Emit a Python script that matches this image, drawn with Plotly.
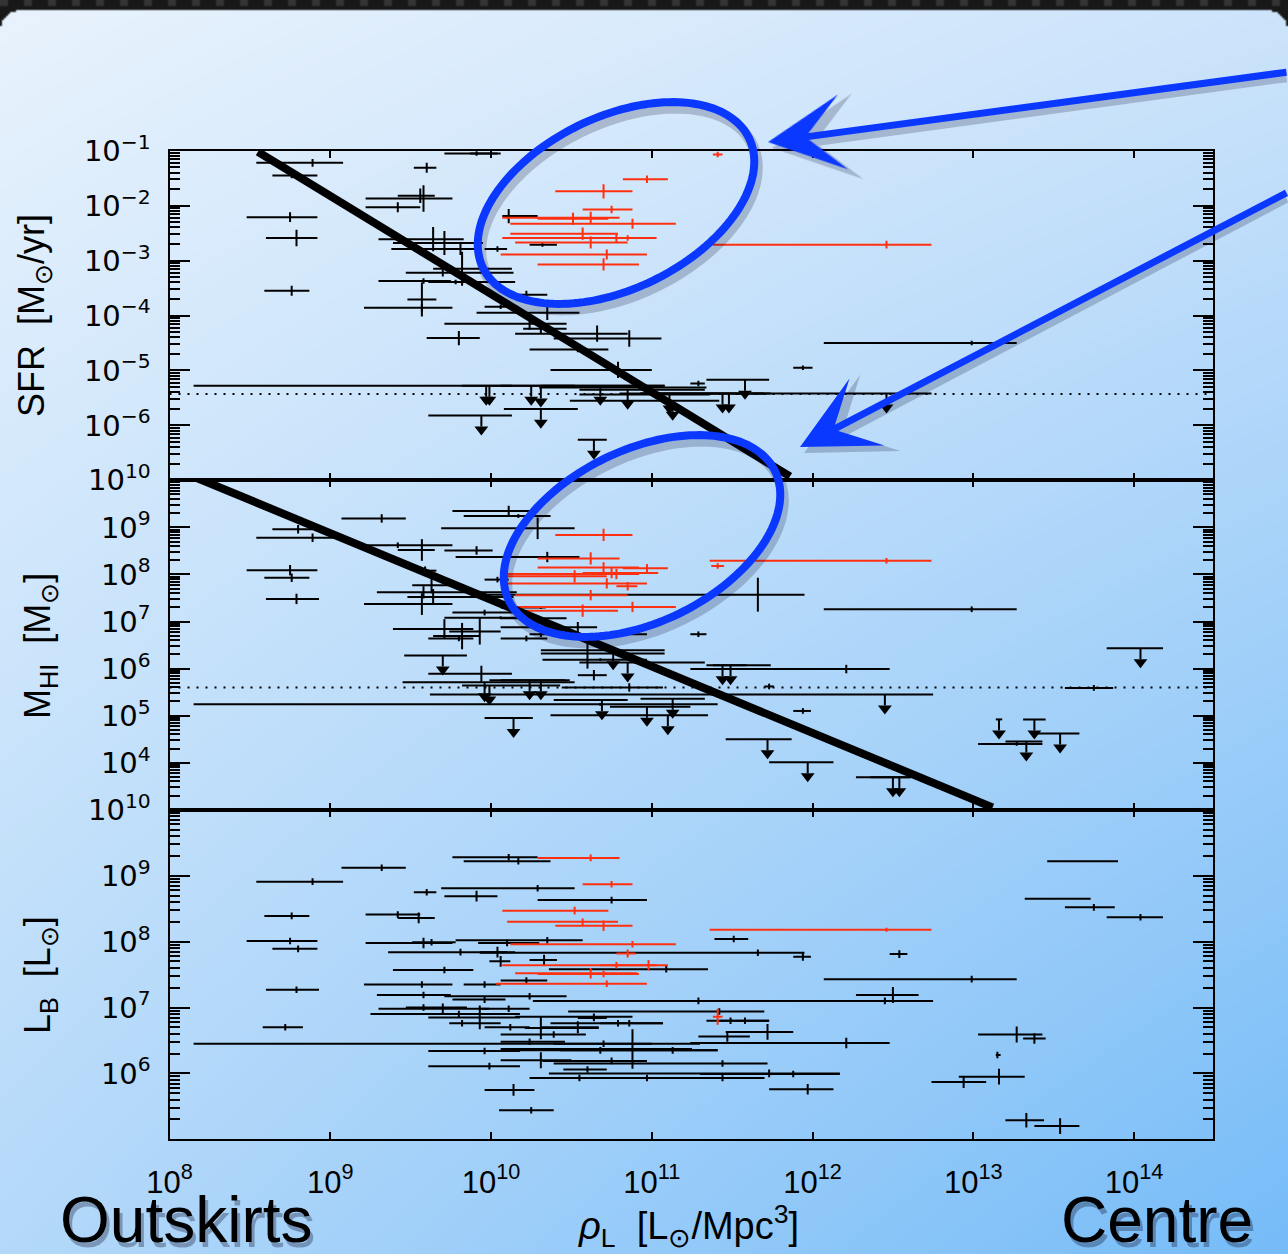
import base64, struct, zlib, math
import plotly.graph_objects as go

W, H = 1288, 1254

# ---------------- data (log10 values; yerr in dex) ----------------
# Panel 1: SFR [Msun/yr]
sfr_x = [9.91, 10.00, 8.89, 8.76, 9.60, 9.56, 9.58, 9.42, 8.75, 8.79, 8.76, 9.64, 9.71, 9.81, 10.04, 9.82, 9.70, 9.58,
         9.78, 9.57, 9.57, 10.06, 9.80, 10.11, 10.32, 10.22, 10.35, 10.24, 10.31, 10.66, 10.86, 10.54, 10.79, 11.29,
         11.94, 12.99]
sfr_xlo = [9.71, 9.87, 8.54, 8.64, 9.52, 9.42, 9.22, 9.22, 8.48, 8.60, 8.59, 9.30, 9.39, 9.38, 9.96, 9.64, 9.47, 9.30,
           9.61, 9.48, 9.21, 9.96, 9.60, 10.07, 10.24, 10.11, 9.91, 9.71, 10.20, 10.15, 10.39, 10.24, 10.37, 11.24,
           11.88, 12.07]
sfr_xhi = [10.04, 10.06, 9.08, 8.92, 9.66, 9.65, 9.76, 9.56, 8.92, 8.92, 8.87, 9.83, 9.95, 9.91, 10.10, 10.13, 10.14,
           9.75, 10.15, 9.66, 9.76, 10.17, 9.93, 10.29, 10.41, 10.35, 10.55, 10.47, 10.47, 10.85, 11.06, 10.73, 11.00,
           11.33, 12.00, 13.27]
sfr_y = [-1.05, -1.05, -1.22, -1.45, -1.31, -1.82, -1.87, -2.03, -2.21, -2.59, -3.55, -2.61, -2.68, -2.79, -2.79,
         -3.15, -3.22, -3.37, -3.39, -3.71, -3.86, -3.84, -4.41, -2.19, -2.71, -3.62, -3.95, -4.15, -4.24, -4.33,
         -4.42, -4.62, -4.99, -5.24, -4.95, -4.50]
sfr_yerr = [0.04, 0.04, 0.07, 0.05, 0.09, 0.13, 0.24, 0.09, 0.09, 0.15, 0.09, 0.22, 0.22, 0.11, 0.05, 0.31, 0.07,
            0.05, 0.04, 0.31, 0.07, 0.04, 0.13, 0.13, 0.04, 0.07, 0.13, 0.11, 0.09, 0.15, 0.15, 0.05, 0.15, 0.05,
            0.04, 0.04]

sfr_lim_x = [9.97, 9.99, 9.94, 10.25, 10.31, 10.31, 10.68, 10.85, 11.11, 11.13, 11.44, 11.48, 11.58, 12.46, 10.64]
sfr_lim_xlo = [8.15, 9.82, 9.61, 10.06, 10.30, 10.08, 10.31, 10.55, 10.55, 10.49, 10.80, 10.93, 11.34, 10.93, 10.54]
sfr_lim_xhi = [11.08, 10.13, 10.13, 10.52, 11.34, 10.54, 11.08, 11.33, 11.36, 11.42, 11.70, 11.74, 11.73, 12.74, 10.72]
sfr_lim_y = [-5.28, -5.28, -5.82, -5.28, -5.31, -5.70, -5.28, -5.35, -5.44, -5.55, -5.42, -5.42, -5.17, -5.42, -6.26]

sfr_red_x = [11.41, 10.97, 10.70, 10.75, 10.51, 10.62, 10.88, 10.57, 10.78, 10.85, 10.62, 10.72, 10.70, 12.46]
sfr_red_xlo = [11.38, 10.82, 10.40, 10.57, 10.29, 10.07, 10.12, 10.12, 10.07, 10.78, 10.15, 10.06, 10.29, 11.38]
sfr_red_xhi = [11.44, 11.10, 10.88, 10.88, 10.73, 10.80, 11.15, 10.79, 11.03, 10.91, 10.85, 10.97, 10.92, 12.74]
sfr_red_y = [-1.07, -1.52, -1.74, -2.07, -2.24, -2.22, -2.33, -2.51, -2.59, -2.59, -2.67, -2.89, -3.07, -2.71]
sfr_red_yerr = [0.05, 0.07, 0.13, 0.07, 0.11, 0.11, 0.09, 0.11, 0.07, 0.05, 0.11, 0.09, 0.11, 0.07]

sfr_fit_x = [8.55, 11.86]
sfr_fit_y = [-1.02, -6.93]
sfr_detection = -5.43

# Panel 2: M_HI [Msun]
hi_x = [10.11, 10.17, 9.32, 8.80, 8.89, 10.29, 9.42, 9.57, 9.91, 10.35, 8.75, 8.76, 8.79, 9.59, 9.63, 9.58, 9.64,
        9.57, 10.04, 9.96, 10.06, 9.71, 9.93, 9.82, 9.80, 9.94, 11.66, 12.99, 11.29, 10.54, 10.31, 10.22, 10.60,
        10.68, 12.21, 10.64, 10.86, 11.73, 10.68, 11.94, 13.75, 13.27, 10.31, 10.24]
hi_xlo = [9.76, 9.83, 9.07, 8.64, 8.54, 9.69, 9.22, 9.42, 9.71, 9.78, 8.48, 8.59, 8.60, 9.56, 9.51, 9.29, 9.48, 9.21,
          9.96, 9.76, 9.71, 9.39, 9.74, 9.64, 9.61, 9.61, 9.93, 12.07, 11.24, 10.06, 10.24, 10.06, 10.31, 10.32,
          11.24, 10.54, 10.44, 11.70, 8.15, 11.88, 13.57, 13.03, 10.06, 10.06]
hi_xhi = [10.29, 10.37, 9.47, 8.89, 9.02, 10.52, 9.76, 9.65, 10.01, 10.55, 8.92, 8.87, 8.93, 9.66, 9.83, 10.16,
          10.14, 9.76, 10.11, 10.18, 10.30, 9.89, 10.06, 9.93, 9.89, 10.13, 11.95, 13.27, 11.34, 10.66, 10.97, 10.35,
          11.08, 10.97, 12.48, 10.72, 11.07, 11.76, 11.41, 11.99, 13.87, 13.43, 10.34, 10.47]
hi_y = [9.35, 9.24, 9.19, 8.96, 8.78, 8.98, 8.62, 8.52, 8.51, 8.37, 8.09, 7.93, 7.48, 8.08, 7.77, 7.62, 7.52, 7.37,
        7.89, 7.19, 7.08, 6.84, 6.79, 6.69, 6.64, 5.89, 7.57, 7.26, 6.73, 6.88, 6.73, 6.64, 6.32, 6.19, 5.99, 5.86,
        5.60, 5.62, 5.24, 5.10, 5.59, 4.40, 7.30, 7.07]
hi_yerr = [0.11, 0.04, 0.09, 0.09, 0.09, 0.23, 0.06, 0.23, 0.09, 0.11, 0.11, 0.09, 0.11, 0.09, 0.17, 0.13, 0.17,
           0.23, 0.06, 0.06, 0.03, 0.21, 0.28, 0.28, 0.06, 0.17, 0.36, 0.06, 0.06, 0.11, 0.06, 0.06, 0.32, 0.03,
           0.09, 0.11, 0.09, 0.06, 0.03, 0.06, 0.06, 0.04, 0.03, 0.03]

hi_lim_x = [9.70, 9.96, 9.99, 10.14, 10.24, 10.31, 10.76, 10.85, 11.44, 11.49, 12.45, 10.69, 10.97, 11.13, 11.10,
            11.72, 11.97, 14.04, 13.16, 13.38, 13.54, 13.33, 12.50, 12.54]
hi_lim_xlo = [9.46, 9.45, 9.82, 9.96, 10.06, 9.99, 10.31, 10.55, 11.34, 11.38, 9.62, 10.39, 10.74, 10.93, 10.37,
              11.46, 11.73, 13.83, 13.14, 13.31, 13.40, 13.20, 12.27, 12.36]
hi_lim_xhi = [9.85, 10.52, 10.43, 10.26, 10.46, 10.49, 11.08, 11.33, 11.59, 11.74, 12.75, 10.85, 11.24, 11.33, 11.35,
              11.87, 12.13, 14.18, 13.18, 13.45, 13.66, 13.43, 12.61, 12.61]
hi_lim_y = [6.28, 5.71, 5.64, 4.95, 5.75, 5.75, 6.39, 6.13, 6.07, 6.07, 5.45, 5.33, 5.19, 5.36, 5.01, 4.50, 4.01,
            6.43, 4.92, 4.92, 4.62, 4.45, 3.69, 3.69]

hi_red_x = [10.70, 10.62, 12.46, 11.41, 10.70, 10.97, 10.75, 10.78, 10.52, 10.72, 10.85, 10.62, 10.88, 10.57]
hi_red_xlo = [10.40, 10.29, 11.36, 11.37, 10.29, 10.82, 10.57, 10.10, 10.07, 10.07, 10.78, 10.15, 10.12, 10.21]
hi_red_xhi = [10.88, 10.80, 12.74, 11.45, 10.92, 11.10, 11.04, 10.92, 10.72, 10.97, 10.91, 10.85, 11.15, 10.79]
hi_red_y = [8.84, 8.34, 8.29, 8.18, 8.15, 8.13, 8.03, 8.01, 7.96, 7.81, 7.75, 7.56, 7.31, 7.23]
hi_red_yerr = [0.13, 0.13, 0.06, 0.06, 0.11, 0.09, 0.11, 0.11, 0.13, 0.11, 0.09, 0.11, 0.11, 0.13]

hi_fit_x = [8.17, 13.12]
hi_fit_y = [10.05, 3.05]
hi_detection = 5.60

# Panel 3: L_B [Lsun]
lb_x = [10.11, 10.17, 9.32, 8.89, 10.29, 9.60, 9.91, 8.76, 9.42, 9.55,
        8.75, 8.80, 8.79, 8.72, 9.58, 9.63, 10.35, 9.81, 10.04, 10.06,
        9.71, 9.57, 9.96, 9.58, 10.24, 9.96, 9.58, 9.70, 9.80, 10.11,
        9.93, 9.82, 10.12, 9.87, 12.21, 9.96, 9.99, 10.14, 10.25, 10.75,
        11.51, 11.66, 11.94, 10.33, 11.09, 10.22, 11.29, 12.45, 12.99, 11.42,
        10.64, 10.64, 11.49, 11.58, 10.79, 10.86, 10.31, 10.54, 10.39, 11.47,
        11.72, 10.24, 10.70, 10.68, 11.13, 10.88, 10.75, 10.31, 11.44, 11.73,
        11.88, 10.60, 10.55, 10.97, 11.44, 11.97, 13.68, 13.48, 13.75, 14.04,
        12.54, 12.50, 13.27, 13.38, 13.15, 13.16, 12.94, 13.33, 13.54, 10.10]
lb_xlo = [9.76, 9.83, 9.07, 8.54, 9.69, 9.52, 9.71, 8.59, 9.22, 9.42,
          8.48, 8.64, 8.60, 8.58, 9.22, 9.51, 9.78, 9.36, 9.93, 9.99,
          9.39, 9.21, 9.83, 9.29, 9.71, 9.76, 9.47, 9.30, 9.25, 9.94,
          9.61, 9.74, 9.96, 8.15, 11.24, 9.61, 9.61, 9.96, 10.05, 10.29,
          11.39, 9.93, 11.88, 10.24, 10.36, 10.06, 10.26, 11.67, 12.07, 10.48,
          10.15, 10.54, 11.34, 11.42, 10.37, 10.68, 10.21, 10.31, 10.06, 11.29,
          11.46, 10.06, 10.39, 10.10, 10.43, 10.06, 10.32, 10.06, 10.39, 10.36,
          11.30, 10.45, 10.24, 10.55, 10.68, 11.73, 13.46, 13.32, 13.57, 13.83,
          12.48, 12.27, 13.03, 13.31, 13.14, 12.91, 12.74, 13.20, 13.38, 9.92]
lb_xhi = [10.29, 10.37, 9.47, 9.08, 10.52, 9.66, 10.04, 8.87, 9.56, 9.65,
          8.92, 8.92, 8.93, 8.83, 9.76, 9.78, 10.57, 10.10, 10.15, 10.12,
          9.89, 9.76, 10.06, 9.75, 10.47, 10.09, 9.85, 9.99, 10.18, 10.24,
          10.18, 10.06, 10.24, 11.30, 12.48, 10.18, 10.18, 10.27, 10.39, 10.97,
          11.60, 11.95, 11.99, 10.41, 11.35, 10.35, 12.30, 12.75, 13.27, 11.70,
          10.88, 10.72, 11.73, 11.73, 11.07, 11.07, 10.67, 10.67, 10.59, 11.61,
          11.88, 10.46, 11.00, 11.41, 11.41, 11.25, 10.97, 10.50, 11.72, 12.17,
          12.17, 10.72, 11.70, 11.30, 11.70, 12.13, 13.90, 13.73, 13.88, 14.18,
          12.59, 12.66, 13.43, 13.45, 13.17, 13.32, 13.08, 13.44, 13.66, 10.30]
lb_y = [9.28, 9.22, 9.12, 8.91, 8.81, 8.75, 8.69, 8.39, 8.41, 8.36,
        8.01, 7.89, 7.27, 6.70, 7.98, 7.99, 8.02, 7.84, 7.84, 7.70,
        7.57, 7.35, 7.35, 7.19, 7.17, 7.12, 7.00, 6.98, 6.90, 6.98,
        6.85, 6.76, 6.70, 6.45, 6.46, 6.34, 6.11, 5.75, 5.44, 8.63,
        8.04, 7.83, 7.77, 7.72, 7.58, 7.41, 7.10, 7.10, 7.43, 6.94,
        6.86, 6.84, 6.80, 6.80, 6.76, 6.76, 6.69, 6.70, 6.59, 6.56,
        6.63, 6.48, 6.45, 6.35, 6.35, 6.37, 6.19, 6.20, 6.15, 6.00,
        5.99, 6.06, 5.93, 5.93, 5.93, 5.76, 9.22, 8.65, 8.52, 8.37,
        7.81, 7.19, 6.59, 6.53, 6.28, 5.95, 5.87, 5.29, 5.20, 7.98]
lb_yerr = [0.05, 0.05, 0.05, 0.05, 0.05, 0.05, 0.08, 0.05, 0.05, 0.08,
           0.05, 0.05, 0.05, 0.05, 0.08, 0.05, 0.05, 0.05, 0.08, 0.08,
           0.05, 0.05, 0.05, 0.05, 0.05, 0.05, 0.05, 0.08, 0.05, 0.05,
           0.18, 0.05, 0.05, 0.0, 0.08, 0.05, 0.05, 0.09, 0.05, 0.05,
           0.05, 0.05, 0.06, 0.08, 0.05, 0.05, 0.05, 0.05, 0.05, 0.05,
           0.05, 0.05, 0.05, 0.05, 0.05, 0.05, 0.17, 0.09, 0.05, 0.08,
           0.12, 0.05, 0.05, 0.05, 0.05, 0.30, 0.05, 0.12, 0.05, 0.06,
           0.05, 0.05, 0.05, 0.05, 0.05, 0.08, 0.0, 0.0, 0.05, 0.05,
           0.06, 0.12, 0.12, 0.08, 0.05, 0.12, 0.09, 0.11, 0.12, 0.05]

lb_red_x = [10.62, 10.75, 10.52, 10.57, 10.70, 12.46, 10.88, 10.85, 10.78, 10.98, 10.62, 10.70, 10.72, 11.41]
lb_red_xlo = [10.29, 10.57, 10.07, 10.10, 10.40, 11.36, 10.12, 10.78, 10.07, 10.68, 10.15, 10.29, 10.03, 11.38]
lb_red_xhi = [10.80, 10.88, 10.73, 10.79, 10.88, 12.74, 11.15, 10.90, 11.03, 11.10, 10.91, 10.92, 10.97, 11.44]
lb_red_y = [9.27, 8.87, 8.47, 8.30, 8.24, 8.18, 7.96, 7.82, 7.64, 7.64, 7.52, 7.51, 7.36, 6.86]
lb_red_yerr = [0.05, 0.05, 0.06, 0.05, 0.08, 0.03, 0.05, 0.06, 0.05, 0.08, 0.08, 0.05, 0.05, 0.12]

x_tick_exp = [8, 9, 10, 11, 12, 13, 14]
sfr_tick_exp = [-1, -2, -3, -4, -5, -6]
hi_tick_exp = [10, 9, 8, 7, 6, 5, 4]
lb_tick_exp = [10, 9, 8, 7, 6]

# ---------------- styling ----------------
BLACK = "black"
RED = "#ff3010"
BLUE = "#0b38ff"
NARROW = "Liberation Sans Narrow, Arial Narrow, Nimbus Sans Narrow, Liberation Sans, Arial, sans-serif"
X_RANGE = [8, 14.493]
X_DOM = [169.5 / W, 1213.3 / W]
PANEL_PX = [(150.7, 480.3), (480.3, 809.8), (809.8, 1139.3)]
Y_RANGES = [[-7, -1], [3, 10], [5, 10]]


def dom(top, bot):
    return [1 - bot / H, 1 - top / H]


# ---------------- background image (gradient card) ----------------
def background_png(scale=2):
    w2, h2 = W // scale, int(math.ceil(H / scale))
    TL, TR, BL, BR = (233, 243, 253), (205, 228, 251), (180, 217, 250), (118, 188, 248)
    top, rad = 10.0, 22.0
    raw = bytearray()
    for j in range(h2):
        yy = (j + 0.5) * scale
        fy = min(yy / H, 1.0)
        raw.append(1)
        pr = pg = pb = 0
        for i in range(w2):
            xx = (i + 0.5) * scale
            fx = xx / W
            dark = yy < top
            if not dark and yy < top + rad:
                if xx < rad and (xx - rad) ** 2 + (yy - top - rad) ** 2 > rad * rad:
                    dark = True
                elif xx > W - rad and (xx - W + rad) ** 2 + (yy - top - rad) ** 2 > rad * rad:
                    dark = True
            if dark:
                v = 52 if (int(xx) // 8) % 3 == 0 and yy < 7 else 24
                r = g = b = v
            else:
                a1 = (1 - fx) * (1 - fy); a2 = fx * (1 - fy); a3 = (1 - fx) * fy; a4 = fx * fy
                r = int(TL[0] * a1 + TR[0] * a2 + BL[0] * a3 + BR[0] * a4)
                g = int(TL[1] * a1 + TR[1] * a2 + BL[1] * a3 + BR[1] * a4)
                b = int(TL[2] * a1 + TR[2] * a2 + BL[2] * a3 + BR[2] * a4)
            raw += bytes(((r - pr) & 255, (g - pg) & 255, (b - pb) & 255))
            pr, pg, pb = r, g, b

    def chunk(t, d):
        return struct.pack(">I", len(d)) + t + d + struct.pack(">I", zlib.crc32(t + d) & 0xffffffff)

    png = (b"\x89PNG\r\n\x1a\n" + chunk(b"IHDR", struct.pack(">IIBBBBB", w2, h2, 8, 2, 0, 0, 0))
           + chunk(b"IDAT", zlib.compress(bytes(raw), 9)) + chunk(b"IEND", b""))
    return "data:image/png;base64," + base64.b64encode(png).decode()


fig = go.Figure()


def add_points(xs, lo, hi, ys, ye, color, xa, ya):
    fig.add_trace(go.Scatter(
        x=[10 ** v for v in xs], y=[10 ** v for v in ys], mode="markers", xaxis=xa, yaxis=ya,
        marker=dict(size=1, color=color),
        error_x=dict(type="data", symmetric=False,
                     array=[10 ** h - 10 ** c for c, h in zip(xs, hi)],
                     arrayminus=[10 ** c - 10 ** l for c, l in zip(xs, lo)],
                     color=color, thickness=2, width=0),
        error_y=dict(type="data", symmetric=False,
                     array=[10 ** (c + e) - 10 ** c for c, e in zip(ys, ye)],
                     arrayminus=[10 ** c - 10 ** (c - e) for c, e in zip(ys, ye)],
                     color=color, thickness=2, width=0),
        showlegend=False, hoverinfo="skip"))


def add_limits(xs, lo, hi, ys, ppd, xa, ya):
    stem, tri = 11.0 / ppd, 14.0 / ppd
    fig.add_trace(go.Scatter(
        x=[10 ** v for v in xs], y=[10 ** v for v in ys], mode="markers", xaxis=xa, yaxis=ya,
        marker=dict(size=1, color=BLACK),
        error_x=dict(type="data", symmetric=False,
                     array=[10 ** h - 10 ** c for c, h in zip(xs, hi)],
                     arrayminus=[10 ** c - 10 ** l for c, l in zip(xs, lo)],
                     color=BLACK, thickness=2, width=0),
        error_y=dict(type="data", symmetric=False, array=[0] * len(ys),
                     arrayminus=[10 ** c - 10 ** (c - stem) for c in ys],
                     color=BLACK, thickness=2, width=0),
        showlegend=False, hoverinfo="skip"))
    fig.add_trace(go.Scatter(
        x=[10 ** v for v in xs], y=[10 ** (c - tri) for c in ys], mode="markers", xaxis=xa, yaxis=ya,
        marker=dict(symbol="triangle-down", size=12, color=BLACK, line=dict(width=0)),
        showlegend=False, hoverinfo="skip"))


def add_dotted(level, xa, ya):
    fig.add_trace(go.Scatter(x=[10 ** X_RANGE[0], 10 ** X_RANGE[1]], y=[10 ** level] * 2, mode="lines",
                             xaxis=xa, yaxis=ya, line=dict(color=BLACK, width=2, dash="2px,7px"),
                             showlegend=False, hoverinfo="skip"))


def add_fit(fx, fy, xa, ya):
    fig.add_trace(go.Scatter(x=[10 ** v for v in fx], y=[10 ** v for v in fy], mode="lines",
                             xaxis=xa, yaxis=ya, line=dict(color=BLACK, width=8), cliponaxis=False,
                             showlegend=False, hoverinfo="skip"))


# panel 1
add_dotted(sfr_detection, "x", "y")
add_points(sfr_x, sfr_xlo, sfr_xhi, sfr_y, sfr_yerr, BLACK, "x", "y")
add_limits(sfr_lim_x, sfr_lim_xlo, sfr_lim_xhi, sfr_lim_y, 55.0, "x", "y")
add_points(sfr_red_x, sfr_red_xlo, sfr_red_xhi, sfr_red_y, sfr_red_yerr, RED, "x", "y")
add_fit(sfr_fit_x, sfr_fit_y, "x", "y")
# panel 2
add_dotted(hi_detection, "x2", "y2")
add_points(hi_x, hi_xlo, hi_xhi, hi_y, hi_yerr, BLACK, "x2", "y2")
add_limits(hi_lim_x, hi_lim_xlo, hi_lim_xhi, hi_lim_y, 47.0, "x2", "y2")
add_points(hi_red_x, hi_red_xlo, hi_red_xhi, hi_red_y, hi_red_yerr, RED, "x2", "y2")
add_fit(hi_fit_x, hi_fit_y, "x2", "y2")
# panel 3
add_points(lb_x, lb_xlo, lb_xhi, lb_y, lb_yerr, BLACK, "x3", "y3")
add_points(lb_red_x, lb_red_xlo, lb_red_xhi, lb_red_y, lb_red_yerr, RED, "x3", "y3")


def sup(e):
    return "10<sup>" + (str(e) if e >= 0 else "\u2212" + str(-e)) + "</sup>"


def xaxis(anchor, show):
    return dict(type="log", range=X_RANGE, domain=X_DOM, anchor=anchor, showline=True, linecolor=BLACK,
                linewidth=2, mirror="ticks", ticks="inside", ticklen=7, tickwidth=2, tickcolor=BLACK,
                tickvals=[10 ** e for e in x_tick_exp], ticktext=[sup(e) for e in x_tick_exp],
                showticklabels=show, showgrid=False, zeroline=False, ticklabelstandoff=14,
                automargin=False, tickfont=dict(family=NARROW, size=31, color=BLACK))


def yaxis(anchor, rng, exps, top, bot):
    minor = [m * 10 ** d for d in range(rng[0], rng[1]) for m in range(2, 10)]
    return dict(type="log", range=rng, domain=dom(top, bot), anchor=anchor, showline=True, linecolor=BLACK,
                linewidth=2, mirror="ticks", ticks="inside", ticklen=20, tickwidth=2, tickcolor=BLACK,
                tickvals=[10 ** e for e in exps], ticktext=[sup(e) for e in exps],
                minor=dict(tickvals=minor, ticks="inside", ticklen=10, tickwidth=2, tickcolor=BLACK,
                           showgrid=False),
                showgrid=False, zeroline=False, ticklabelstandoff=11, automargin=False,
                tickfont=dict(family="DejaVu Sans", size=29, color=BLACK))


# shapes: highlighted ellipses
def ellipse_path(cx, cy, a, b, th_deg, n=160):
    th = math.radians(th_deg)
    pts = []
    for k in range(n):
        t = 2 * math.pi * k / n
        px = cx + a * math.cos(t) * math.cos(th) - b * math.sin(t) * math.sin(th)
        py = cy - (a * math.cos(t) * math.sin(th) + b * math.sin(t) * math.cos(th))
        pts.append(f"{px / W:.5f},{1 - py / H:.5f}")
    return "M" + " L".join(pts) + " Z"


shapes = []
for (cx, cy) in [(616, 203), (642, 536)]:
    shapes.append(dict(type="path", path=ellipse_path(cx + 3, cy + 6, 148, 86, 26), xref="paper", yref="paper",
                       line=dict(color="rgba(0,0,40,0.20)", width=11), layer="above"))
    shapes.append(dict(type="path", path=ellipse_path(cx, cy, 148, 86, 26), xref="paper", yref="paper",
                       line=dict(color=BLUE, width=8), layer="above"))

annotations = []
# arrows pointing at the ellipses
for (hx, hy, tx, ty) in [(768, 142, 1300, 72), (800, 447, 1300, 192)]:
    annotations.append(dict(x=(hx + 4) / W, y=1 - (hy + 6) / H, xref="paper", yref="paper", text="",
                            showarrow=True, arrowhead=3, arrowsize=1.8, arrowwidth=8,
                            arrowcolor="rgba(0,0,40,0.20)", ax=tx - hx, ay=ty - hy))
    annotations.append(dict(x=hx / W, y=1 - hy / H, xref="paper", yref="paper", text="",
                            showarrow=True, arrowhead=3, arrowsize=1.8, arrowwidth=7,
                            arrowcolor=BLUE, ax=tx - hx, ay=ty - hy))

# axis titles
for txt, px, py in [("SFR  [M<sub>\u2299</sub>/yr]", 34, 316), ("M<sub>HI</sub>  [M<sub>\u2299</sub>]", 40, 646),
                    ("L<sub>B</sub>  [L<sub>\u2299</sub>]", 40, 975)]:
    annotations.append(dict(x=px / W, y=1 - py / H, xref="paper", yref="paper", text=txt, textangle=-90,
                            showarrow=False, xanchor="center", yanchor="middle",
                            font=dict(family=NARROW, size=36, color=BLACK)))
annotations.append(dict(x=688 / W, y=1 - 1226 / H, xref="paper", yref="paper",
                        text="<i>\u03c1</i><sub>L</sub>  [L<sub>\u2299</sub>/Mpc<sup>3</sup>]",
                        showarrow=False, xanchor="center", yanchor="middle",
                        font=dict(family=NARROW, size=38, color=BLACK)))
for txt, px in [("Outskirts", 186), ("Centre", 1157)]:
    annotations.append(dict(x=(px + 3) / W, y=1 - 1225 / H, xref="paper", yref="paper", text=txt,
                            showarrow=False, xanchor="center", yanchor="middle",
                            font=dict(family="Liberation Sans, Arial, sans-serif", size=64,
                                      color="rgba(0,0,30,0.30)")))
    annotations.append(dict(x=px / W, y=1 - 1220 / H, xref="paper", yref="paper", text=txt,
                            showarrow=False, xanchor="center", yanchor="middle",
                            font=dict(family="Liberation Sans, Arial, sans-serif", size=64, color=BLACK)))

fig.update_layout(
    width=W, height=H, margin=dict(l=0, r=0, t=0, b=0, pad=0, autoexpand=False),
    paper_bgcolor="#cfe5fa", plot_bgcolor="rgba(0,0,0,0)", hovermode=False, showlegend=False,
    xaxis=xaxis("y", False), xaxis2=xaxis("y2", False), xaxis3=xaxis("y3", True),
    yaxis=yaxis("x", Y_RANGES[0], sfr_tick_exp, *PANEL_PX[0]),
    yaxis2=yaxis("x2", Y_RANGES[1], hi_tick_exp, *PANEL_PX[1]),
    yaxis3=yaxis("x3", Y_RANGES[2], lb_tick_exp, *PANEL_PX[2]),
    shapes=shapes, annotations=annotations,
    images=[dict(source=background_png(2), xref="paper", yref="paper", x=0, y=1, sizex=1, sizey=1,
                 xanchor="left", yanchor="top", sizing="stretch", layer="below")],
)
fig.update_xaxes(matches="x")

fig.write_html("out.html", config={"displayModeBar": False})
